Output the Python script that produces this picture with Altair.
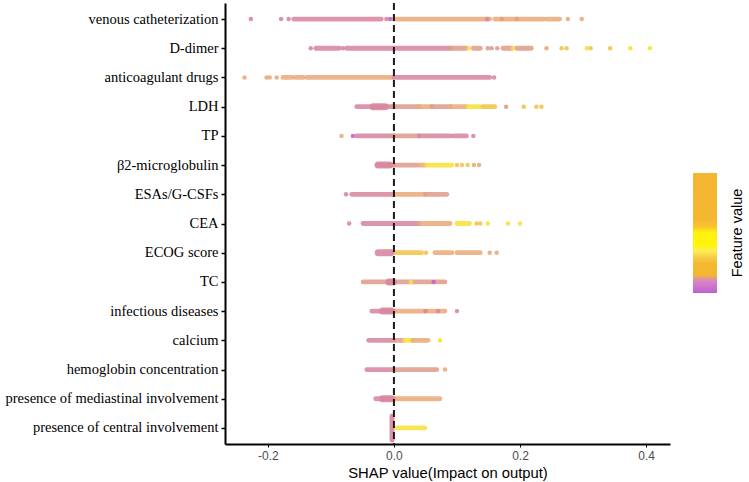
import altair as alt
import pandas as pd

features = ["venous catheterization", "D-dimer", "anticoagulant drugs", "LDH", "TP",
            "β2-microglobulin", "ESAs/G-CSFs", "CEA", "ECOG score", "TC",
            "infectious diseases", "calcium", "hemoglobin concentration",
            "presence of mediastinal involvement", "presence of central involvement"]

x_ticks = [-0.2, 0.0, 0.2, 0.4]

# dense stretches of points: (from, to, colour class)
venous_segs = [(-0.159, -0.020, "P"), (0.0, 0.152, "O"), (0.160, 0.237, "O"), (0.242, 0.263, "O")]
ddimer_segs = [(-0.124, -0.087, "P"), (-0.075, 0.090, "P"), (0.090, 0.115, "M"), (0.126, 0.137, "M"),
               (0.173, 0.187, "M"), (0.195, 0.218, "M")]
anticoag_segs = [(-0.176, -0.162, "O"), (-0.157, -0.144, "O"), (-0.138, -0.002, "O"), (0.0, 0.152, "P")]
ldh_segs = [(-0.059, 0.0, "P"), (0.0, 0.040, "M"), (0.040, 0.060, "O"), (0.060, 0.090, "M"),
            (0.090, 0.115, "O"), (0.118, 0.137, "Y"), (0.141, 0.160, "G")]
tp_segs = [(-0.059, 0.0, "P"), (0.0, 0.040, "M"), (0.040, 0.089, "P"), (0.094, 0.115, "P")]
b2_segs = [(-0.027, 0.0, "P"), (0.0, 0.036, "M"), (0.038, 0.050, "O"), (0.052, 0.092, "Y")]
esas_segs = [(-0.067, -0.002, "P"), (0.0, 0.050, "O"), (0.050, 0.084, "M")]
cea_segs = [(-0.049, 0.040, "P"), (0.041, 0.089, "O"), (0.100, 0.120, "Y")]
ecog_segs = [(0.002, 0.044, "G"), (0.065, 0.092, "O"), (0.100, 0.137, "O")]
tc_segs = [(-0.049, 0.0, "M"), (0.0, 0.081, "M")]
infect_segs = [(-0.035, 0.0, "P"), (0.0, 0.081, "O")]
calcium_segs = [(-0.040, 0.0, "P"), (0.0, 0.015, "M"), (0.017, 0.030, "Y"), (0.030, 0.054, "O")]
hemo_segs = [(-0.043, 0.0, "P"), (0.0, 0.068, "M")]
medi_segs = [(-0.029, 0.0, "P"), (0.0, 0.073, "O")]
central_segs = [(0.005, 0.049, "Y")]

# thicker piles of points near zero: (from, to, colour class)
ldh_blob = [(-0.033, -0.014, "P")]
b2_blob = [(-0.025, -0.007, "P")]
ecog_blob = [(-0.025, -0.005, "P")]
tc_blob = [(-0.008, -0.001, "P")]
infect_blob = [(-0.018, -0.004, "P")]
medi_blob = [(-0.018, -0.004, "P")]
central_stack = [(-0.003, "P")]

# single points: (SHAP value, colour class)
venous_dots = [(-0.227, "P"), (-0.179, "P"), (-0.167, "P"), (-0.012, "P"), (-0.006, "V"),
               (0.148, "P"), (0.171, "M"), (0.195, "M"), (0.276, "O"), (0.298, "O")]
ddimer_dots = [(-0.132, "P"), (-0.081, "P"), (0.119, "Y"), (0.149, "M"), (0.155, "M"), (0.164, "M"),
               (0.189, "Y"), (0.242, "O"), (0.266, "G"), (0.274, "G"), (0.306, "Y"), (0.312, "G"),
               (0.343, "G"), (0.375, "Y"), (0.406, "Y")]
anticoag_dots = [(-0.237, "O"), (-0.202, "O"), (-0.197, "O"), (-0.186, "O"), (0.159, "P")]
ldh_dots = [(0.178, "M"), (0.206, "G"), (0.226, "G"), (0.234, "G")]
tp_dots = [(-0.083, "O"), (-0.065, "V"), (0.126, "P")]
b2_dots = [(0.100, "G"), (0.108, "G"), (0.117, "G"), (0.127, "O"), (0.135, "O")]
esas_dots = [(-0.076, "P")]
cea_dots = [(-0.071, "P"), (0.131, "G"), (0.137, "G"), (0.149, "Y"), (0.181, "Y"), (0.200, "Y")]
ecog_dots = [(0.051, "G"), (0.152, "O"), (0.163, "O")]
tc_dots = [(0.027, "Y"), (0.063, "V")]
infect_dots = [(0.050, "P"), (0.070, "P"), (0.100, "P")]
calcium_dots = [(0.073, "Y")]
hemo_dots = [(0.081, "O")]
medi_dots = []
central_dots = []

segs_by_feature = [venous_segs, ddimer_segs, anticoag_segs, ldh_segs, tp_segs, b2_segs, esas_segs,
                   cea_segs, ecog_segs, tc_segs, infect_segs, calcium_segs, hemo_segs, medi_segs,
                   central_segs]
blobs_by_feature = [[], [], [], ldh_blob, [], b2_blob, [], [], ecog_blob, tc_blob, infect_blob, [], [],
                    medi_blob, []]
stacks_by_feature = [[], [], [], [], [], [], [], [], [], [], [], [], [], [], central_stack]
dots_by_feature = [venous_dots, ddimer_dots, anticoag_dots, ldh_dots, tp_dots, b2_dots, esas_dots,
                   cea_dots, ecog_dots, tc_dots, infect_dots, calcium_dots, hemo_dots, medi_dots,
                   central_dots]

# legend colour bar stops (feature value -> colour)
legend_title = "Feature value"
legend_domain = [0, 0.12, 0.135, 0.28, 0.33, 0.38, 0.52, 0.56, 1]
legend_colors = ["#BF5FD2", "#D98FC6", "#F4B632", "#F5BA30", "#FBE870", "#FFF40A", "#FFF30F",
                 "#F5B832", "#F4B530"]

palette = {"P": "#D8869E", "O": "#E9AB7C", "M": "#E09C8E", "Y": "#F6E23A",
           "G": "#F2C44A", "V": "#C066C8"}

seg_rows, blob_rows, stack_rows, dot_rows = [], [], [], []
for f, segs, blobs, stacks, dots in zip(features, segs_by_feature, blobs_by_feature,
                                         stacks_by_feature, dots_by_feature):
    for a, b, c in segs:
        seg_rows.append({"feature": f, "x0": a, "x1": b, "hex": palette[c]})
    for a, b, c in blobs:
        blob_rows.append({"feature": f, "x0": a, "x1": b, "hex": palette[c]})
    for a, c in stacks:
        stack_rows.append({"feature": f, "x": a, "hex": palette[c]})
    for a, c in dots:
        dot_rows.append({"feature": f, "x": a, "hex": palette[c]})

seg_df = pd.DataFrame(seg_rows)
blob_df = pd.DataFrame(blob_rows)
stack_df = pd.DataFrame(stack_rows)
dot_df = pd.DataFrame(dot_rows)
legend_df = pd.DataFrame({"feature": [features[0]], "x": [0.0], "fv": [0.5], "label": [legend_title]})

xscale = alt.Scale(domain=[-0.268, 0.438], nice=False, zero=False)
yscale = alt.Scale(type="point", domain=features, padding=0.55)
xaxis = alt.Axis(values=x_ticks, labelExpr="replace(format(datum.value, '.1f'), '\u2212', '-')",
                 title="SHAP value(Impact on output)", grid=False)
yaxis = alt.Axis(title=None, grid=False, labelLimit=0)


def X(field):
    return alt.X(field, type="quantitative", scale=xscale, axis=xaxis)


def Y():
    return alt.Y("feature:N", scale=yscale, axis=yaxis, sort=features)


segs_layer = alt.Chart(seg_df).mark_rule(strokeWidth=4.8, strokeCap="round", opacity=0.88).encode(
    x=X("x0"), x2="x1", y=Y(), color=alt.Color("hex:N", scale=None))
blob_layer = alt.Chart(blob_df).mark_rule(strokeWidth=7, strokeCap="round", opacity=0.9).encode(
    x=X("x0"), x2="x1", y=Y(), color=alt.Color("hex:N", scale=None))
stack_layer = alt.Chart(stack_df).mark_rule(strokeWidth=5, strokeCap="round", opacity=0.9,
                                            yOffset=-12, y2Offset=12).encode(
    x=X("x"), y=Y(), y2="feature:N", color=alt.Color("hex:N", scale=None))
dot_layer = alt.Chart(dot_df).mark_circle(size=20, opacity=0.9).encode(
    x=X("x"), y=Y(), color=alt.Color("hex:N", scale=None))
zero_layer = alt.Chart(legend_df).mark_rule(strokeDash=[7, 4], strokeWidth=2, color="#1a1a1a").encode(
    x=alt.X("x:Q", scale=xscale, axis=xaxis))
legend_layer = alt.Chart(legend_df).mark_point(opacity=0).encode(
    x=X("x"), y=Y(),
    color=alt.Color("fv:Q", scale=alt.Scale(domain=legend_domain, range=legend_colors),
                    legend=alt.Legend(title=None, orient="none", legendX=468, legendY=170,
                                      gradientLength=120, gradientThickness=24,
                                      gradientStrokeWidth=0, labelExpr="''")))
legend_title_layer = alt.Chart(legend_df).mark_text(
    angle=270, align="center", baseline="middle", font="Liberation Sans", fontSize=14.5,
    color="black"
).encode(x=alt.value(513), y=alt.value(230), text="label:N")

chart = alt.layer(segs_layer, blob_layer, stack_layer, dot_layer, zero_layer, legend_layer,
                  legend_title_layer).resolve_scale(
    color="independent"
).properties(
    width=445, height=441,
    autosize=alt.AutoSizeParams(type="none"),
    padding={"left": 225, "top": 3, "right": 79, "bottom": 38},
    background="white"
).configure_view(stroke=None).configure_axisY(
    labelFont="Liberation Serif", labelFontSize=14.5, labelColor="black", labelPadding=3,
    domainColor="black", domainWidth=2, tickColor="black", tickSize=4, tickWidth=1.5
).configure_axisX(
    labelFont="Liberation Sans", labelFontSize=12, labelColor="#4d4d4d", labelPadding=3,
    domainColor="black", domainWidth=2, tickColor="black", tickSize=3, tickWidth=1,
    titleFont="Liberation Sans", titleFontSize=14.8, titleFontWeight="normal", titleColor="black",
    titlePadding=4
)

chart.save("out.html", embed_options={"renderer": "svg", "actions": False})
